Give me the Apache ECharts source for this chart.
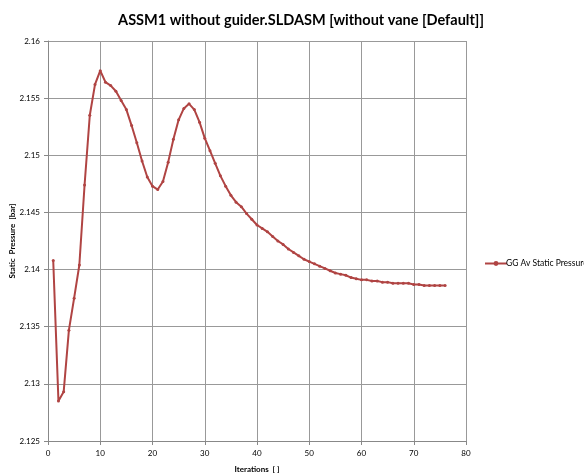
<!DOCTYPE html>
<html>
<head>
<meta charset="utf-8">
<script src="https://cdn.jsdelivr.net/npm/echarts@6/dist/echarts.min.js"></script>
<style>
  html, body { margin: 0; padding: 0; background: #fff; }
  #chart { width: 584px; height: 475px; }
</style>
</head>
<body>
<div id="chart"></div>
<script>
// values
const iterations = [
  1, 2, 3, 4, 5, 6, 7, 8, 9, 10, 11, 12, 13, 14, 15, 16, 17, 18, 19, 20,
  21, 22, 23, 24, 25, 26, 27, 28, 29, 30, 31, 32, 33, 34, 35, 36, 37, 38, 39, 40,
  41, 42, 43, 44, 45, 46, 47, 48, 49, 50, 51, 52, 53, 54, 55, 56, 57, 58, 59, 60,
  61, 62, 63, 64, 65, 66, 67, 68, 69, 70, 71, 72, 73, 74, 75, 76
]
const pressure = [
  2.1408, 2.1285, 2.1293, 2.1347, 2.1375, 2.1404, 2.1474, 2.1535, 2.1562, 2.1574,
  2.1564, 2.1561, 2.1556, 2.1548, 2.1540, 2.1526, 2.1511, 2.1495, 2.1481, 2.1473,
  2.1470, 2.1477, 2.1494, 2.1514, 2.1531, 2.1541, 2.1545, 2.1540, 2.1529, 2.1515,
  2.1504, 2.1493, 2.1482, 2.1473, 2.1465, 2.1459, 2.1455, 2.1449, 2.1444, 2.1439,
  2.1436, 2.1433, 2.1429, 2.1425, 2.1422, 2.1418, 2.1415, 2.1412, 2.1409, 2.1407,
  2.1405, 2.1403, 2.1401, 2.1399, 2.1397, 2.1396, 2.1395, 2.1393, 2.1392, 2.1391,
  2.1391, 2.1390, 2.1390, 2.1389, 2.1389, 2.1388, 2.1388, 2.1388, 2.1388, 2.1387,
  2.1387, 2.1386, 2.1386, 2.1386, 2.1386, 2.1386
]
const xTicks = [0, 80, 10]          // min, max, interval
const yTicks = [2.125, 2.16, 0.005] // min, max, interval
const seriesName = 'GG Av Static Pressure 1'

const chart = echarts.init(document.getElementById('chart'))

const option = {
  animation: false,
  title: {
    text: 'ASSM1 without guider.SLDASM [without vane [Default]]',
    left: 296,
    textAlign: 'center',
    top: 8,
    textStyle: {fontFamily: 'Lato', fontSize: 14.5, fontWeight: 'bold', color: '#000'}
  },
  grid: {left: 48, right: 118, top: 41, bottom: 34, outerBoundsMode: 'none'},
  legend: {
    left: 479,
    top: 254,
    itemWidth: 22,
    itemHeight: 6,
    itemGap: 2,
    textStyle: {fontFamily: 'Lato', fontSize: 8.5, color: '#000', padding: [0, 0, 0, -6]},
    data: [seriesName]
  },
  xAxis: {
    type: 'value',
    min: xTicks[0], max: xTicks[1], interval: xTicks[2],
    name: 'Iterations  [ ]',
    nameLocation: 'middle',
    nameGap: 24,
    nameMoveOverlap: false,
    nameTextStyle: {fontFamily: 'Lato', fontSize: 8, fontWeight: 'bold', color: '#000'},
    axisLine: {lineStyle: {color: '#888'}},
    axisTick: {show: true, length: 4, lineStyle: {color: '#888'}},
    axisLabel: {fontFamily: 'Lato', fontSize: 8, color: '#000', margin: 8},
    splitLine: {lineStyle: {color: '#999'}}
  },
  yAxis: {
    type: 'value',
    min: yTicks[0], max: yTicks[1], interval: yTicks[2],
    name: 'Static  Pressure  [bar]',
    nameLocation: 'middle',
    nameGap: 32,
    nameMoveOverlap: false,
    nameTextStyle: {fontFamily: 'Lato', fontSize: 8, fontWeight: 'bold', color: '#000'},
    axisLine: {show: true, lineStyle: {color: '#888'}},
    axisTick: {show: true, length: 4, lineStyle: {color: '#888'}},
    axisLabel: {
      fontFamily: 'Lato', fontSize: 8, color: '#000', margin: 8,
      formatter: v => String(+v.toFixed(3))
    },
    splitLine: {lineStyle: {color: '#999'}}
  },
  series: [{
    name: seriesName,
    type: 'line',
    data: iterations.map((it, i) => [it, pressure[i]]),
    symbol: 'circle',
    symbolSize: 3,
    lineStyle: {color: '#b04443', width: 2},
    itemStyle: {color: '#b04443'}
  }]
}

option && chart.setOption(option)
</script>
</body>
</html>
